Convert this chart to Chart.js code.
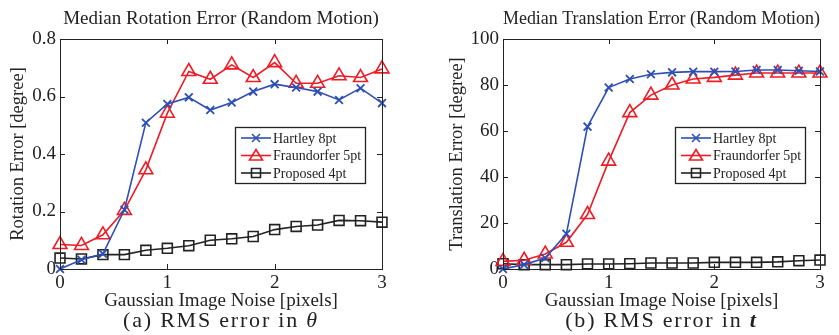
<!DOCTYPE html>
<html>
<head>
<meta charset="utf-8">
<script src="https://cdn.jsdelivr.net/npm/chart.js@4"></script>
<style>
  body { margin: 0; background: #fff; font-family: "Liberation Serif", serif; }
  .wrap { position: absolute; top: 0; height: 312px; }
  .cap { position: absolute; top: 307px; font-size: 22px; letter-spacing: 1.8px; color: #222; text-align: center; white-space: nowrap; }
</style>
</head>
<body>
<div class="wrap" style="left:0;width:420px"><canvas id="rotChart"></canvas></div>
<div class="wrap" style="left:420px;width:419px"><canvas id="transChart"></canvas></div>
<div class="cap" style="left:60px;width:322px">(a) RMS error in <i>θ</i></div>
<div class="cap" style="left:503px;width:317px">(b) RMS error in <b><i>t</i></b></div>
<script>
// noise levels (pixels)
const noise = [0, 0.2, 0.4, 0.6, 0.8, 1.0, 1.2, 1.4, 1.6, 1.8, 2.0, 2.2, 2.4, 2.6, 2.8, 3.0];
const seriesNames = ['Hartley 8pt', 'Fraundorfer 5pt', 'Proposed 4pt'];

// rotation error [degree]
const rotHartley = [0, 0.032, 0.053, 0.206, 0.509, 0.574, 0.597, 0.553, 0.579, 0.617, 0.643, 0.631, 0.617, 0.588, 0.629, 0.577];
const rotFraund = [0.085, 0.082, 0.119, 0.204, 0.345, 0.542, 0.687, 0.66, 0.71, 0.666, 0.718, 0.646, 0.646, 0.672, 0.666, 0.696];
const rotProposed = [0.038, 0.035, 0.05, 0.05, 0.065, 0.072, 0.081, 0.1, 0.105, 0.113, 0.137, 0.148, 0.153, 0.169, 0.168, 0.163];

// translation error [degree]
const transHartley = [0, 1.9, 4.8, 15.3, 61.9, 78.9, 82.6, 84.7, 85.5, 85.8, 85.8, 85.9, 86.5, 86.5, 86.2, 85.9];
const transFraund = [3.3, 3.8, 6.5, 11.6, 23.7, 46.9, 68, 75.6, 80, 82.6, 83.3, 84.3, 85.2, 85.2, 85.2, 85.2];
const transProposed = [2.3, 1.9, 1.9, 1.9, 2.2, 2.2, 2.3, 2.6, 2.6, 2.6, 2.9, 2.9, 2.9, 3.1, 3.6, 3.9];

const BLUE = '#2d4fb4', RED = '#ee1c25', BLACK = '#222';
const FONT = 'Liberation Serif';

function pts(ys) {
  return noise.map((x, i) => ({ x: x, y: ys[i] }));
}

function makeSets(h, f, p) {
  return [
    { label: seriesNames[0], data: pts(h), borderColor: BLUE, pointStyle: 'crossRot', pointRadius: 5.5, pointBorderWidth: 1.8 },
    { label: seriesNames[1], data: pts(f), borderColor: RED, pointStyle: 'triangle', pointRadius: 8, pointBorderWidth: 1.6 },
    { label: seriesNames[2], data: pts(p), borderColor: BLACK, pointStyle: 'rect', pointRadius: 7, pointBorderWidth: 1.6 }
  ].map(d => Object.assign(d, { borderWidth: 1.6, pointBackgroundColor: 'rgba(0,0,0,0)', backgroundColor: 'rgba(0,0,0,0)', fill: false, clip: false, tension: 0 }));
}

// matlab style box with inward ticks
const boxPlugin = {
  id: 'box',
  afterDatasetsDraw(chart) {
    const ctx = chart.ctx, a = chart.chartArea;
    ctx.save();
    ctx.strokeStyle = BLACK;
    ctx.lineWidth = 1;
    ctx.strokeRect(a.left + 0.5, a.top + 0.5, a.right - a.left, a.bottom - a.top);
    ctx.beginPath();
    chart.scales.x.ticks.forEach(t => {
      const px = Math.round(chart.scales.x.getPixelForValue(t.value)) + 0.5;
      ctx.moveTo(px, a.bottom); ctx.lineTo(px, a.bottom - 5);
      ctx.moveTo(px, a.top); ctx.lineTo(px, a.top + 5);
    });
    chart.scales.y.ticks.forEach(t => {
      const py = Math.round(chart.scales.y.getPixelForValue(t.value)) + 0.5;
      ctx.moveTo(a.left, py); ctx.lineTo(a.left + 5, py);
      ctx.moveTo(a.right, py); ctx.lineTo(a.right - 5, py);
    });
    ctx.stroke();
    ctx.restore();
  }
};

// legend box inside the plot
const legendBox = {
  id: 'legendBox',
  afterDraw(chart, args, opts) {
    const ctx = chart.ctx;
    const x = opts.x, y = opts.y, w = opts.w, h = opts.h;
    ctx.save();
    ctx.fillStyle = '#fff';
    ctx.fillRect(x, y, w, h);
    ctx.strokeStyle = BLACK;
    ctx.lineWidth = 1.3;
    ctx.strokeRect(x + 0.5, y + 0.5, w, h);
    ctx.font = '14px "' + FONT + '"';
    ctx.textBaseline = 'middle';
    chart.data.datasets.forEach((ds, i) => {
      const cy = y + 11 + i * 17.5;
      ctx.strokeStyle = ds.borderColor;
      ctx.lineWidth = 1.6;
      ctx.beginPath();
      ctx.moveTo(x + 6, cy); ctx.lineTo(x + 36, cy);
      ctx.stroke();
      const cx = x + 21;
      ctx.beginPath();
      if (ds.pointStyle === 'crossRot') {
        const r = 4;
        ctx.moveTo(cx - r, cy - r); ctx.lineTo(cx + r, cy + r);
        ctx.moveTo(cx - r, cy + r); ctx.lineTo(cx + r, cy - r);
      } else if (ds.pointStyle === 'triangle') {
        ctx.moveTo(cx, cy - 6); ctx.lineTo(cx + 6.5, cy + 4.5); ctx.lineTo(cx - 6.5, cy + 4.5); ctx.closePath();
      } else {
        ctx.rect(cx - 4.5, cy - 4.5, 9, 9);
      }
      ctx.stroke();
      ctx.fillStyle = BLACK;
      ctx.fillText(ds.label, x + 38, cy + 1);
    });
    ctx.restore();
  }
};

function makeChart(id, title, yTitle, yMax, yStep, sets, axisW, padRight, legendX, yTitlePad) {
  new Chart(document.getElementById(id), {
    type: 'line',
    data: { datasets: sets },
    plugins: [boxPlugin, legendBox],
    options: {
      responsive: true,
      maintainAspectRatio: false,
      animation: false,
      layout: { autoPadding: false, padding: { left: 0, right: padRight, top: 0, bottom: 0 } },
      plugins: {
        legend: { display: false },
        tooltip: { enabled: false },
        title: { display: true, text: title, color: BLACK, fullSize: false, font: { family: FONT, size: 19, weight: 'normal' }, padding: { top: 7.5, bottom: 8.7 } },
        legendBox: { x: legendX, y: 127, w: 130, h: 56 }
      },
      scales: {
        x: {
          type: 'linear', min: 0, max: 3,
          afterFit: s => { s.height = 43; },
          grid: { display: false, drawTicks: false },
          border: { display: false },
          ticks: { stepSize: 1, color: BLACK, padding: 3, font: { family: FONT, size: 19 } },
          title: { display: true, text: 'Gaussian Image Noise [pixels]', color: BLACK, padding: 0, font: { family: FONT, size: 19 } }
        },
        y: {
          min: 0, max: yMax,
          afterFit: s => { s.width = axisW; },
          grid: { display: false, drawTicks: false },
          border: { display: false },
          ticks: { stepSize: yStep, color: BLACK, padding: 4, font: { family: FONT, size: 19 } },
          title: { display: true, text: yTitle, color: BLACK, padding: { top: yTitlePad, bottom: 0 }, font: { family: FONT, size: 18.5 } }
        }
      }
    }
  });
}

makeChart('rotChart', 'Median Rotation Error (Random Motion)', 'Rotation Error [degree]', 0.8, 0.2,
  makeSets(rotHartley, rotFraund, rotProposed), 60, 38, 235, 7);
makeChart('transChart', 'Median Translation Error (Random Motion)', 'Translation Error [degree]', 100, 20,
  makeSets(transHartley, transFraund, transProposed), 83, 19, 255, 26);
</script>
</body>
</html>
